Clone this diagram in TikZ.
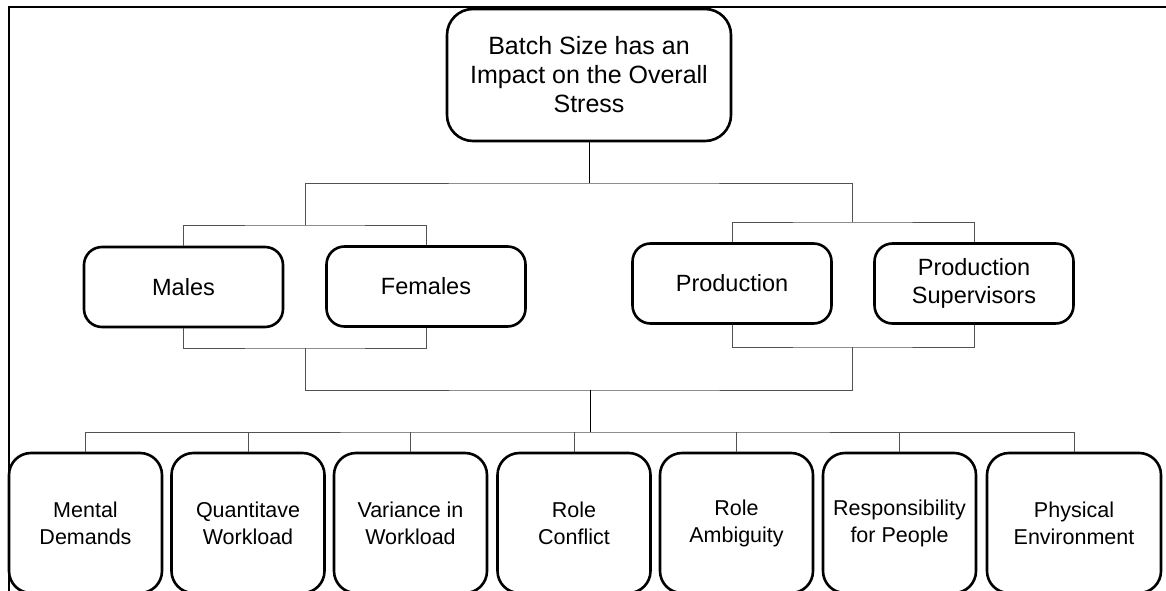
\documentclass[tikz,border=0pt]{standalone}
\usepackage{fontspec}
\setmainfont{Liberation Sans}
\begin{document}
\begin{tikzpicture}[x=1pt,y=-1pt,
  box/.style={draw=black, line width=2.6pt, rounded corners=#1, align=center,
    inner sep=0pt, text=black},
  box/.default=18pt,
  topbox/.style={box=26pt, minimum width=284pt, minimum height=132pt,
    font=\fontsize{25}{29}\selectfont},
  midbox/.style={box=18pt, minimum width=199pt, minimum height=80pt,
    font=\fontsize{23.5}{28}\selectfont},
  lowbox/.style={box=22pt, minimum width=153pt, minimum height=140pt,
    font=\fontsize{21.5}{27}\selectfont},
  trunk/.style={draw=black, line width=1pt},
  branch/.style={draw=black!68, line width=1pt},
  frame/.style={draw=black, line width=2pt}
]
\useasboundingbox (0,0) rectangle (1166,591);

% outer frame (only its left and top edges fall inside the page)
\draw[frame] (8.5,600) |- (1175,7.3);

% top level
\node[topbox] (top) at (589,75) {Batch Size has an\\Impact on the Overall\\Stress};

% second level
\node[midbox] (males)   at (183.5,287) {Males};
\node[midbox] (females) at (426,286.5) {Females};
\node[midbox] (prod)    at (732,283.5) {Production};
\node[midbox] (sup)     at (974,283.5) {Production\\Supervisors};

% third level
\node[lowbox] (b1) at (85.5,523) {Mental\\Demands};
\node[lowbox] (b2) at (248,523) {Quantitave\\Workload};
\node[lowbox] (b3) at (410.5,523) {Variance in\\Workload};
\node[lowbox] (b4) at (574,523) {Role\\Conflict};
\node[lowbox] (b5) at (736.5,523) {Role\\Ambiguity};
\node[lowbox] (b6) at (899.5,523) {Responsibility\\for People};
\node[lowbox, minimum width=174pt] (b7) at (1074,523) {Physical\\Environment};

% junction points of the connectors
\coordinate (jt)  at (589,183);
\coordinate (mfT) at (305,225);
\coordinate (ppT) at (852,222);
\coordinate (mfB) at (305,348);
\coordinate (ppB) at (852,347);
\coordinate (jb)  at (590,390);
\coordinate (jl)  at (590,432);

% connectors from the top box to the two groups
\draw[trunk] (top.south) -- (jt);
\draw[branch] (mfT) |- (jt) -| (ppT);
\draw[branch] (males.north) |- (mfT) -| (females.north);
\draw[branch] (prod.north) |- (ppT) -| (sup.north);

% connectors from the two groups to the stress factors
\draw[branch] (males.south) |- (mfB) -| (females.south);
\draw[branch] (prod.south) |- (ppB) -| (sup.south);
\draw[branch] (mfB) |- (jb) -| (ppB);
\draw[trunk] (jb) -- (jl);
\draw[branch] (b1.north) |- (jl) -| (b7.north);
\foreach \n in {b2,b3,b4,b5,b6}
  \draw[branch] (\n.north) -- (\n.north |- jl);
\end{tikzpicture}
\end{document}
